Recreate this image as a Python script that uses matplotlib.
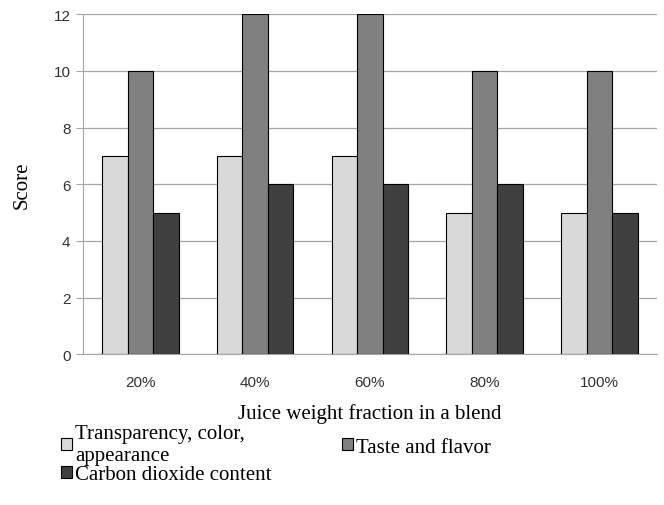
import numpy as np
import matplotlib.pyplot as plt

categories = ['20%', '40%', '60%', '80%', '100%']
transparency = [7, 7, 7, 5, 5]
taste = [10, 12, 12, 10, 10]
co2 = [5, 6, 6, 6, 5]

series_names = ['Transparency, color,\nappearance', 'Taste and flavor', 'Carbon dioxide content']
colors = ['#d9d9d9', '#808080', '#404040']

fig = plt.figure(figsize=(6.64, 5.06), dpi=100)
ax = fig.add_axes([0.125, 0.298, 0.864, 0.672])

x = np.arange(len(categories))
w = 0.222
bars = []
for i, (vals, c) in enumerate(zip([transparency, taste, co2], colors)):
    b = ax.bar(x + (i - 1) * w, vals, w, color=c, edgecolor='black', linewidth=0.8, zorder=3)
    bars.append(b)

ax.set_xlim(-0.5, 4.5)
ax.set_ylim(0, 12)
ax.set_yticks(range(0, 13, 2))
ax.set_xticks(x)
ax.set_xticklabels(categories, fontsize=11, family='Liberation Sans', color='#333333')
for lab in ax.get_yticklabels():
    lab.set_fontsize(11)
    lab.set_family('Liberation Sans')
    lab.set_color('#333333')
ax.yaxis.grid(True, color='#a6a6a6', linewidth=0.9, zorder=0)
for s in ['top', 'right']:
    ax.spines[s].set_visible(False)
ax.spines['left'].set_color('#a6a6a6')
ax.spines['bottom'].set_color('#a6a6a6')
ax.tick_params(axis='y', length=5, color='#a6a6a6', pad=4)
ax.tick_params(axis='x', length=0, pad=15)

ax.set_ylabel('Score', family='Liberation Serif', fontsize=15, labelpad=16)
ax.set_xlabel('Juice weight fraction in a blend', family='Liberation Serif', fontsize=15, labelpad=10)

handles = [bars[0], bars[2], bars[1]]
labels = [series_names[0], series_names[2], series_names[1]]
fig.legend(handles, labels, ncol=2, loc='upper left', bbox_to_anchor=(0.08, 0.176),
           frameon=False, prop={'family': 'Liberation Serif', 'size': 15},
           handlelength=0.5, handleheight=0.5, handletextpad=0.15,
           labelspacing=0.0, columnspacing=3.4, borderaxespad=0)

fig.savefig('out.png', dpi=100)
